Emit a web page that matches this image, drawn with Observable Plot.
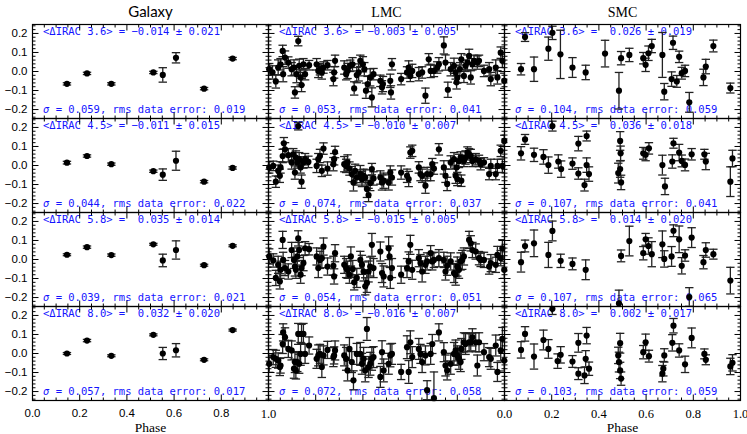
<!DOCTYPE html>
<html><head><meta charset="utf-8">
<script src="https://cdn.jsdelivr.net/npm/d3@7"></script>
<script src="https://cdn.jsdelivr.net/npm/@observablehq/plot@0.6"></script>
<style>body{margin:0;background:#fff}</style>
</head><body><div id="chart"></div>
<script>
const columns = ["Galaxy", "LMC", "SMC"];
const bands = ["3.6", "4.5", "5.8", "8.0"];

// Galaxy: phases and ΔIRAC values / errors per band
const galPhase = [0.146, 0.231, 0.334, 0.512, 0.552, 0.608, 0.727, 0.848];
const gal36 = [-0.065, -0.010, -0.065, -0.005, -0.018, 0.072, -0.090, 0.068];
const gal36Err = [0.006, 0.006, 0.006, 0.006, 0.038, 0.027, 0.006, 0.006];
const gal45 = [0.015, 0.050, 0.007, -0.030, -0.048, 0.025, -0.085, -0.013];
const gal45Err = [0.007, 0.006, 0.006, 0.006, 0.030, 0.050, 0.006, 0.006];
const gal58 = [0.025, 0.065, 0.023, 0.080, -0.005, 0.050, -0.030, 0.072];
const gal58Err = [0.005, 0.006, 0.006, 0.005, 0.033, 0.048, 0.005, 0.005];
const gal80 = [0.000, 0.068, -0.012, 0.098, 0.000, 0.017, -0.033, 0.123];
const gal80Err = [0.005, 0.006, 0.005, 0.005, 0.032, 0.035, 0.005, 0.005];

// LMC: [phase, ΔIRAC, error]
const lmc36 = [[0.003,0.012,0.030],[0.017,-0.005,0.035],[0.031,-0.052,0.035],[0.041,0.021,0.040],[0.051,0.038,0.030],[0.060,0.108,0.030],[0.062,-0.014,0.040],[0.070,0.073,0.035],[0.084,0.047,0.030],[0.098,0.012,0.035],[0.108,0.021,0.040],[0.112,-0.110,0.030],[0.119,-0.014,0.045],[0.126,0.160,0.025],[0.130,0.030,0.035],[0.136,-0.031,0.040],[0.140,-0.071,0.035],[0.148,0.038,0.030],[0.155,-0.014,0.030],[0.172,0.033,0.025],[0.204,0.038,0.030],[0.211,0.003,0.035],[0.218,0.012,0.030],[0.226,-0.005,0.035],[0.233,0.021,0.030],[0.250,0.033,0.025],[0.275,-0.040,0.035],[0.278,-0.005,0.030],[0.282,0.056,0.030],[0.321,0.021,0.035],[0.329,-0.014,0.030],[0.335,0.003,0.040],[0.346,0.030,0.030],[0.356,0.038,0.035],[0.363,-0.089,0.035],[0.374,-0.019,0.040],[0.382,-0.005,0.045],[0.389,0.056,0.030],[0.400,0.038,0.040],[0.406,0.012,0.035],[0.413,-0.101,0.040],[0.420,-0.066,0.040],[0.431,-0.031,0.045],[0.438,-0.136,0.050],[0.445,-0.014,0.030],[0.474,-0.049,0.030],[0.481,-0.083,0.035],[0.485,-0.066,0.040],[0.516,-0.049,0.035],[0.519,-0.110,0.035],[0.523,0.038,0.030],[0.562,-0.040,0.030],[0.587,-0.005,0.030],[0.594,0.021,0.035],[0.601,-0.023,0.030],[0.609,0.003,0.035],[0.637,-0.014,0.035],[0.651,-0.005,0.030],[0.665,-0.127,0.040],[0.679,0.064,0.030],[0.687,0.003,0.035],[0.701,0.003,0.030],[0.715,0.021,0.030],[0.722,0.038,0.035],[0.743,0.137,0.045],[0.750,0.047,0.040],[0.760,-0.096,0.040],[0.772,0.012,0.035],[0.786,0.030,0.040],[0.793,-0.005,0.035],[0.797,-0.057,0.035],[0.800,-0.031,0.030],[0.811,0.012,0.035],[0.817,0.064,0.030],[0.828,-0.023,0.035],[0.835,0.030,0.030],[0.843,0.047,0.040],[0.850,0.082,0.035],[0.857,-0.031,0.035],[0.864,0.038,0.030],[0.871,0.056,0.030],[0.885,0.047,0.035],[0.892,0.056,0.030],[0.913,0.003,0.030],[0.935,0.012,0.035],[0.942,-0.040,0.035],[0.963,0.021,0.040],[0.970,-0.031,0.035],[0.984,0.099,0.030],[0.991,0.056,0.035],[0.999,-0.049,0.040]];
const lmc45 = [[0.003,-0.010,0.030],[0.020,-0.002,0.025],[0.031,-0.085,0.030],[0.041,-0.028,0.030],[0.048,-0.054,0.035],[0.051,-0.010,0.030],[0.060,0.050,0.035],[0.065,0.117,0.030],[0.070,0.085,0.035],[0.084,0.054,0.035],[0.098,0.016,0.035],[0.105,0.059,0.030],[0.112,-0.037,0.035],[0.116,0.042,0.035],[0.122,0.016,0.030],[0.126,0.207,0.020],[0.130,0.033,0.035],[0.136,-0.010,0.030],[0.140,-0.085,0.035],[0.148,0.016,0.030],[0.155,0.033,0.030],[0.169,0.019,0.030],[0.204,-0.002,0.035],[0.211,0.033,0.030],[0.218,0.050,0.035],[0.226,-0.028,0.030],[0.233,0.089,0.030],[0.250,-0.016,0.035],[0.275,0.007,0.035],[0.278,0.033,0.030],[0.282,0.071,0.030],[0.321,0.007,0.040],[0.329,-0.002,0.035],[0.335,0.016,0.040],[0.343,-0.016,0.035],[0.353,-0.045,0.040],[0.360,-0.089,0.045],[0.367,-0.028,0.035],[0.374,-0.063,0.040],[0.389,-0.045,0.045],[0.396,-0.071,0.040],[0.403,-0.054,0.035],[0.410,-0.063,0.040],[0.417,-0.123,0.045],[0.424,-0.155,0.035],[0.431,-0.092,0.040],[0.438,-0.019,0.030],[0.445,-0.068,0.035],[0.474,-0.063,0.035],[0.481,-0.089,0.040],[0.488,-0.080,0.040],[0.509,-0.089,0.040],[0.516,-0.037,0.035],[0.523,-0.063,0.040],[0.562,-0.037,0.035],[0.587,-0.054,0.035],[0.594,-0.071,0.040],[0.601,0.068,0.030],[0.609,0.077,0.030],[0.637,-0.010,0.030],[0.644,-0.045,0.035],[0.651,-0.054,0.035],[0.665,-0.106,0.040],[0.672,-0.045,0.035],[0.687,-0.045,0.035],[0.694,0.007,0.030],[0.701,-0.016,0.030],[0.722,0.085,0.030],[0.743,-0.010,0.035],[0.750,-0.054,0.035],[0.757,-0.097,0.035],[0.772,0.016,0.035],[0.786,0.033,0.035],[0.793,-0.054,0.040],[0.797,-0.010,0.035],[0.800,-0.071,0.035],[0.807,0.024,0.035],[0.814,0.042,0.030],[0.817,-0.080,0.030],[0.828,0.024,0.030],[0.835,0.042,0.035],[0.843,0.068,0.030],[0.850,0.059,0.030],[0.857,0.050,0.035],[0.864,0.024,0.030],[0.878,0.033,0.030],[0.892,0.024,0.030],[0.899,0.007,0.030],[0.913,0.016,0.025],[0.935,-0.045,0.030],[0.942,-0.002,0.035],[0.963,-0.045,0.030],[0.970,-0.002,0.035],[0.984,0.077,0.030],[0.991,-0.002,0.035],[0.999,0.129,0.030]];
const lmc58 = [[0.003,0.016,0.040],[0.020,-0.005,0.035],[0.031,-0.097,0.040],[0.041,-0.028,0.045],[0.048,-0.115,0.040],[0.051,-0.054,0.045],[0.060,0.103,0.045],[0.062,-0.002,0.040],[0.070,-0.045,0.040],[0.084,-0.063,0.040],[0.098,0.050,0.040],[0.108,-0.002,0.045],[0.112,-0.037,0.050],[0.116,-0.054,0.045],[0.122,0.016,0.045],[0.126,0.111,0.040],[0.130,0.050,0.040],[0.136,-0.080,0.045],[0.140,-0.045,0.040],[0.148,-0.019,0.040],[0.155,0.059,0.035],[0.172,0.054,0.030],[0.204,0.016,0.045],[0.211,-0.045,0.050],[0.218,-0.002,0.045],[0.226,0.007,0.050],[0.233,0.068,0.045],[0.250,-0.037,0.045],[0.275,-0.033,0.050],[0.278,-0.089,0.040],[0.282,0.033,0.045],[0.321,-0.028,0.045],[0.329,-0.045,0.050],[0.335,-0.054,0.045],[0.343,-0.080,0.045],[0.349,0.016,0.050],[0.357,-0.050,0.045],[0.363,-0.120,0.040],[0.374,-0.097,0.050],[0.389,-0.002,0.045],[0.396,-0.028,0.050],[0.403,-0.063,0.050],[0.410,-0.141,0.045],[0.417,-0.123,0.050],[0.424,-0.063,0.055],[0.431,-0.037,0.050],[0.438,0.077,0.060],[0.445,-0.045,0.050],[0.474,0.042,0.050],[0.481,-0.071,0.050],[0.488,-0.089,0.055],[0.509,0.059,0.060],[0.513,0.016,0.055],[0.516,-0.097,0.055],[0.523,-0.045,0.050],[0.562,-0.080,0.045],[0.587,-0.045,0.050],[0.594,-0.010,0.050],[0.601,0.077,0.050],[0.609,-0.054,0.050],[0.637,0.007,0.045],[0.644,-0.019,0.045],[0.651,-0.063,0.055],[0.665,-0.028,0.045],[0.672,-0.010,0.045],[0.687,0.033,0.040],[0.694,-0.010,0.045],[0.701,-0.002,0.040],[0.722,0.007,0.045],[0.743,-0.002,0.040],[0.750,-0.063,0.045],[0.757,-0.033,0.050],[0.772,-0.010,0.045],[0.786,-0.071,0.050],[0.793,-0.080,0.055],[0.800,-0.037,0.050],[0.807,-0.054,0.045],[0.814,-0.010,0.045],[0.821,-0.002,0.050],[0.828,0.016,0.045],[0.850,0.103,0.045],[0.857,0.085,0.040],[0.864,0.050,0.040],[0.878,0.042,0.040],[0.892,0.007,0.035],[0.899,-0.002,0.035],[0.913,-0.002,0.040],[0.935,-0.037,0.040],[0.942,-0.019,0.045],[0.963,-0.028,0.040],[0.970,0.024,0.045],[0.984,0.007,0.040],[0.991,0.059,0.045],[0.999,-0.054,0.045]];
const lmc80 = [[0.003,-0.054,0.045],[0.020,-0.019,0.040],[0.031,-0.028,0.045],[0.041,-0.037,0.040],[0.048,-0.071,0.045],[0.051,-0.063,0.040],[0.060,0.050,0.050],[0.062,0.111,0.045],[0.070,0.085,0.050],[0.084,0.024,0.045],[0.098,0.016,0.050],[0.108,-0.080,0.050],[0.112,-0.045,0.055],[0.116,-0.089,0.045],[0.122,-0.045,0.050],[0.126,0.103,0.055],[0.130,-0.054,0.050],[0.136,-0.002,0.060],[0.140,0.103,0.050],[0.148,0.103,0.055],[0.155,-0.002,0.050],[0.172,0.042,0.045],[0.204,-0.028,0.050],[0.211,-0.010,0.055],[0.218,-0.002,0.050],[0.226,-0.071,0.055],[0.233,-0.010,0.050],[0.250,0.019,0.045],[0.275,-0.019,0.050],[0.278,-0.010,0.045],[0.282,0.016,0.050],[0.321,-0.010,0.055],[0.329,-0.028,0.060],[0.335,-0.089,0.055],[0.343,0.024,0.060],[0.353,-0.045,0.055],[0.360,-0.141,0.050],[0.374,-0.002,0.055],[0.389,-0.002,0.060],[0.396,-0.054,0.055],[0.403,-0.028,0.060],[0.410,-0.089,0.060],[0.417,0.129,0.060],[0.424,-0.071,0.055],[0.431,-0.054,0.060],[0.438,-0.028,0.060],[0.445,-0.019,0.055],[0.474,-0.123,0.055],[0.481,0.007,0.060],[0.488,-0.089,0.060],[0.509,-0.054,0.055],[0.516,-0.010,0.060],[0.523,-0.002,0.055],[0.562,-0.097,0.040],[0.587,0.033,0.060],[0.594,-0.097,0.060],[0.601,0.059,0.060],[0.609,-0.019,0.055],[0.637,0.024,0.055],[0.644,-0.002,0.050],[0.651,-0.045,0.055],[0.665,-0.010,0.050],[0.672,-0.193,0.050],[0.687,-0.002,0.055],[0.694,0.050,0.050],[0.701,-0.235,0.138],[0.722,0.111,0.045],[0.743,0.007,0.050],[0.750,-0.063,0.055],[0.757,-0.089,0.050],[0.772,-0.054,0.055],[0.786,-0.002,0.060],[0.793,0.016,0.055],[0.800,-0.010,0.050],[0.807,-0.028,0.055],[0.814,-0.045,0.050],[0.817,0.024,0.055],[0.828,0.059,0.050],[0.835,0.050,0.055],[0.850,0.059,0.050],[0.857,0.059,0.045],[0.864,0.085,0.045],[0.878,0.059,0.050],[0.885,-0.063,0.055],[0.892,0.059,0.050],[0.913,0.007,0.045],[0.935,-0.019,0.050],[0.942,-0.028,0.055],[0.963,0.042,0.055],[0.970,-0.097,0.050],[0.984,0.016,0.055],[0.991,0.077,0.060],[0.999,-0.037,0.055]];

// SMC: [phase, ΔIRAC, error]
const smc36 = [[0.070,0.012,0.030],[0.087,0.181,0.023],[0.125,0.012,0.064],[0.186,0.120,0.061],[0.203,0.203,0.035],[0.237,0.090,0.127],[0.288,0.021,0.052],[0.344,-0.005,0.038],[0.426,0.094,0.070],[0.485,-0.101,0.096],[0.494,0.070,0.035],[0.529,0.087,0.035],[0.588,0.070,0.030],[0.598,0.035,0.035],[0.610,0.096,0.038],[0.624,0.134,0.035],[0.669,0.087,0.118],[0.677,-0.106,0.043],[0.708,-0.040,0.038],[0.714,0.151,0.035],[0.730,-0.052,0.031],[0.740,0.077,0.030],[0.751,-0.009,0.031],[0.765,0.003,0.030],[0.783,-0.162,0.052],[0.843,-0.031,0.043],[0.853,0.026,0.038],[0.885,0.134,0.031],[0.957,-0.087,0.026]];
const smc45 = [[0.070,0.064,0.035],[0.087,0.137,0.026],[0.125,0.056,0.035],[0.165,0.045,0.038],[0.186,0.002,0.043],[0.203,0.207,0.026],[0.228,0.021,0.035],[0.240,-0.019,0.043],[0.288,0.010,0.030],[0.313,0.115,0.038],[0.313,-0.042,0.030],[0.339,-0.103,0.031],[0.348,0.155,0.026],[0.348,0.002,0.038],[0.358,-0.045,0.038],[0.482,-0.040,0.052],[0.490,0.129,0.049],[0.492,0.064,0.038],[0.490,-0.019,0.043],[0.494,-0.089,0.038],[0.588,0.064,0.031],[0.598,0.056,0.031],[0.612,0.090,0.030],[0.669,0.002,0.052],[0.680,-0.110,0.043],[0.711,0.021,0.035],[0.716,0.117,0.026],[0.740,0.068,0.043],[0.751,0.024,0.031],[0.765,0.003,0.031],[0.793,0.059,0.030],[0.847,0.059,0.026],[0.853,0.021,0.043],[0.957,-0.085,0.078],[0.966,0.037,0.043]];
const smc58 = [[0.070,-0.014,0.052],[0.087,0.071,0.031],[0.125,0.085,0.070],[0.186,0.024,0.066],[0.203,0.150,0.052],[0.238,-0.007,0.035],[0.288,-0.023,0.031],[0.344,-0.054,0.052],[0.485,-0.231,0.070],[0.494,0.019,0.031],[0.529,0.097,0.078],[0.588,0.033,0.035],[0.598,0.106,0.031],[0.610,0.071,0.043],[0.624,0.028,0.066],[0.669,0.080,0.070],[0.677,0.003,0.043],[0.708,0.016,0.052],[0.716,0.151,0.031],[0.740,0.106,0.070],[0.751,-0.033,0.043],[0.765,0.021,0.030],[0.783,-0.197,0.049],[0.793,0.115,0.052],[0.843,-0.014,0.035],[0.853,0.050,0.038],[0.885,0.028,0.026],[0.957,-0.111,0.070]];
const smc80 = [[0.070,0.019,0.043],[0.087,0.103,0.038],[0.125,-0.016,0.066],[0.165,0.071,0.052],[0.186,0.024,0.049],[0.203,0.235,0.030],[0.225,-0.040,0.038],[0.238,-0.007,0.043],[0.288,-0.042,0.031],[0.313,0.056,0.049],[0.313,-0.106,0.031],[0.339,-0.115,0.043],[0.348,0.094,0.043],[0.344,-0.028,0.043],[0.358,-0.080,0.035],[0.482,-0.010,0.043],[0.485,-0.045,0.052],[0.490,0.054,0.052],[0.490,-0.089,0.043],[0.494,-0.132,0.035],[0.588,0.007,0.035],[0.598,0.059,0.043],[0.612,-0.014,0.031],[0.669,-0.106,0.043],[0.677,-0.010,0.035],[0.673,-0.080,0.038],[0.711,0.056,0.043],[0.716,0.146,0.038],[0.740,0.016,0.035],[0.765,-0.057,0.043],[0.793,0.082,0.052],[0.847,-0.002,0.026],[0.853,-0.033,0.026],[0.957,-0.068,0.043],[0.966,-0.049,0.043]];

// Annotation statistics per column (order of bands)
const galMean = [-0.014, -0.011, 0.035, 0.032], galMeanErr = [0.021, 0.015, 0.014, 0.020];
const galSigma = [0.059, 0.044, 0.039, 0.057], galRms = [0.019, 0.022, 0.021, 0.017];
const lmcMean = [-0.003, -0.010, -0.015, -0.016], lmcMeanErr = [0.005, 0.007, 0.005, 0.007];
const lmcSigma = [0.053, 0.074, 0.054, 0.072], lmcRms = [0.041, 0.037, 0.051, 0.058];
const smcMean = [0.026, 0.036, 0.014, 0.002], smcMeanErr = [0.019, 0.018, 0.020, 0.017];
const smcSigma = [0.104, 0.107, 0.107, 0.103], smcRms = [0.059, 0.041, 0.065, 0.059];

// Axis ticks
const yMajor = [-0.2, -0.1, 0, 0.1, 0.2];
const yTickLabels = ["−0.2", "−0.1", "0.0", "0.1", "0.2"];
const xMajor = [0, 0.2, 0.4, 0.6, 0.8, 1.0];
const xTickLabels = ["0.0", "0.2", "0.4", "0.6", "0.8", "1.0"];
const yDomain = [-0.247, 0.247];

// ---- build tables ----
const rows = [];
const addTriples = (col, band, arr) => arr.forEach(([p, d, e]) => rows.push({col, band, phase: p, d, err: e}));
const galVals = [[gal36, gal36Err], [gal45, gal45Err], [gal58, gal58Err], [gal80, gal80Err]];
bands.forEach((b, i) => galPhase.forEach((p, j) => rows.push({col: "Galaxy", band: b, phase: p, d: galVals[i][0][j], err: galVals[i][1][j]})));
[lmc36, lmc45, lmc58, lmc80].forEach((a, i) => addTriples("LMC", bands[i], a));
[smc36, smc45, smc58, smc80].forEach((a, i) => addTriples("SMC", bands[i], a));

const fmtSigned = v => (v < 0 ? "−" : "\u00a0") + Math.abs(v).toFixed(3);
const stats = {Galaxy: [galMean, galMeanErr, galSigma, galRms], LMC: [lmcMean, lmcMeanErr, lmcSigma, lmcRms], SMC: [smcMean, smcMeanErr, smcSigma, smcRms]};
const panels = [];
columns.forEach(col => bands.forEach((band, i) => {
  const [m, me, s, r] = stats[col];
  panels.push({col, band,
    top: `<ΔIRAC ${band}> = ${fmtSigned(m[i])} ± ${me[i].toFixed(3)}`,
    bottom: `= ${s[i].toFixed(3)}, rms data error: ${r[i].toFixed(3)}`});
}));

const yMinor = d3.range(-0.24, 0.241, 0.02).filter(v => !yMajor.some(m => Math.abs(m - v) < 1e-6));
const xMinor = d3.range(0.05, 1, 0.05).filter(v => !xMajor.some(m => Math.abs(m - v) < 1e-6));
const cross = (vals) => panels.flatMap(p => vals.map(v => ({col: p.col, band: p.band, v})));

const seg = (dx, dy) => ({draw(ctx, size) { const r = Math.sqrt(size / Math.PI); ctx.moveTo(0, 0); ctx.lineTo(dx * r, dy * r); }});
const cap = {draw(ctx, size) { const r = Math.sqrt(size / Math.PI); ctx.moveTo(-r, 0); ctx.lineTo(r, 0); }};

const sans = "Liberation Sans, Arial, sans-serif";
const serif = "Liberation Serif, Times New Roman, serif";
const mono = "DejaVu Sans Mono, monospace";
const blue = "#1414ff";
const fc = {fx: "col", fy: "band"};

function tickMarks(vals, len, yAxis) {
  const d = cross(vals);
  const o = {...fc, stroke: "black", fill: "none", strokeWidth: 1, r: len};
  if (yAxis) return [
    Plot.dot(d, {...o, x: () => 0, y: "v", symbol: seg(1, 0)}),
    Plot.dot(d, {...o, x: () => 1, y: "v", symbol: seg(-1, 0)})];
  return [
    Plot.dot(d, {...o, x: "v", y: () => yDomain[0], symbol: seg(0, -1)}),
    Plot.dot(d, {...o, x: "v", y: () => yDomain[1], symbol: seg(0, 1)})];
}

const xLabelData = [
  ...xMajor.slice(0, 5).map((v, i) => ({col: "Galaxy", band: "8.0", v, label: xTickLabels[i]})),
  ...xMajor.slice(1).map((v, i) => ({col: "SMC", band: "8.0", v, label: xTickLabels[i + 1]})),
  {col: "LMC", band: "8.0", v: 0, label: "1.0"}, {col: "LMC", band: "8.0", v: 1, label: "0.0"}];
const yLabelData = bands.flatMap(band => yMajor.map((v, i) => ({col: "Galaxy", band, v, label: yTickLabels[i]})));

const chart = Plot.plot({
  width: 747, height: 434,
  marginLeft: 31, marginRight: 7, marginTop: 22, marginBottom: 33,
  x: {domain: [0, 1], axis: null},
  y: {domain: yDomain, axis: null},
  fx: {domain: columns, padding: 0, axis: null},
  fy: {domain: bands, padding: 0, axis: null},
  style: {background: "white"},
  marks: [
    Plot.text(panels, {...fc, text: "top", frameAnchor: "top-left", textAnchor: "start", dx: 10.5, dy: 7.5, lineAnchor: "middle", fill: blue, fontFamily: mono, fontSize: 10.5}),
    Plot.text(panels, {...fc, text: () => "σ", frameAnchor: "bottom-left", textAnchor: "start", dx: 10.5, dy: -8.7, lineAnchor: "middle", fill: blue, fontFamily: mono, fontStyle: "italic", fontSize: 10.5}),
    Plot.text(panels, {...fc, text: "bottom", frameAnchor: "bottom-left", textAnchor: "start", dx: 10.5 + 2 * 6.32, dy: -8.7, lineAnchor: "middle", fill: blue, fontFamily: mono, fontSize: 10.5}),
    Plot.ruleX(rows, {...fc, x: "phase", y1: d => d.d - d.err, y2: d => d.d + d.err, stroke: "#222", strokeWidth: 1.3, clip: true}),
    Plot.dot(rows, {...fc, x: "phase", y: d => d.d + d.err, symbol: cap, r: 4.2, stroke: "#222", fill: "none", strokeWidth: 1.3, clip: true}),
    Plot.dot(rows, {...fc, x: "phase", y: d => d.d - d.err, symbol: cap, r: 4.2, stroke: "#222", fill: "none", strokeWidth: 1.3, clip: true}),
    Plot.dot(rows, {...fc, x: "phase", y: "d", r: 3.1, fill: "black", stroke: "none"}),
    ...tickMarks(yMajor, 6, true), ...tickMarks(yMinor, 3, true),
    ...tickMarks(xMajor, 6, false), ...tickMarks(xMinor, 3, false),
    Plot.frame({stroke: "black", strokeWidth: 1.2}),
    Plot.text(yLabelData, {...fc, y: "v", text: "label", frameAnchor: "left", textAnchor: "end", dx: -5, fontFamily: sans, fontSize: 11.5, fill: "black"}),
    Plot.text(xLabelData.filter(d => d.col === "Galaxy"), {...fc, x: "v", text: "label", frameAnchor: "bottom", dy: 13, lineAnchor: "middle", fontFamily: sans, fontSize: 11.5, fill: "black"}),
    Plot.text(xLabelData.filter(d => d.col !== "Galaxy"), {...fc, x: "v", text: "label", frameAnchor: "bottom", dy: 13, lineAnchor: "middle", fontFamily: serif, fontSize: 12.5, fill: "black"}),
    Plot.text([{col: "Galaxy", band: "3.6", t: "Galaxy"}], {...fc, text: "t", frameAnchor: "top", dy: -12, lineAnchor: "middle", fontFamily: "Lato, Liberation Sans, sans-serif", fontWeight: 400, fontSize: 15, fill: "black"}),
    Plot.text([{col: "LMC", band: "3.6", t: "LMC"}, {col: "SMC", band: "3.6", t: "SMC"}], {...fc, text: "t", frameAnchor: "top", dy: -12, lineAnchor: "middle", fontFamily: serif, fontSize: 14, fill: "black"}),
    Plot.text([{col: "Galaxy", band: "8.0", t: "Phase"}, {col: "SMC", band: "8.0", t: "Phase"}], {...fc, text: "t", frameAnchor: "bottom", dy: 27, lineAnchor: "middle", fontFamily: serif, fontSize: 13.5, fill: "black"})
  ]
});
document.getElementById("chart").appendChild(chart);
</script>
</body></html>
